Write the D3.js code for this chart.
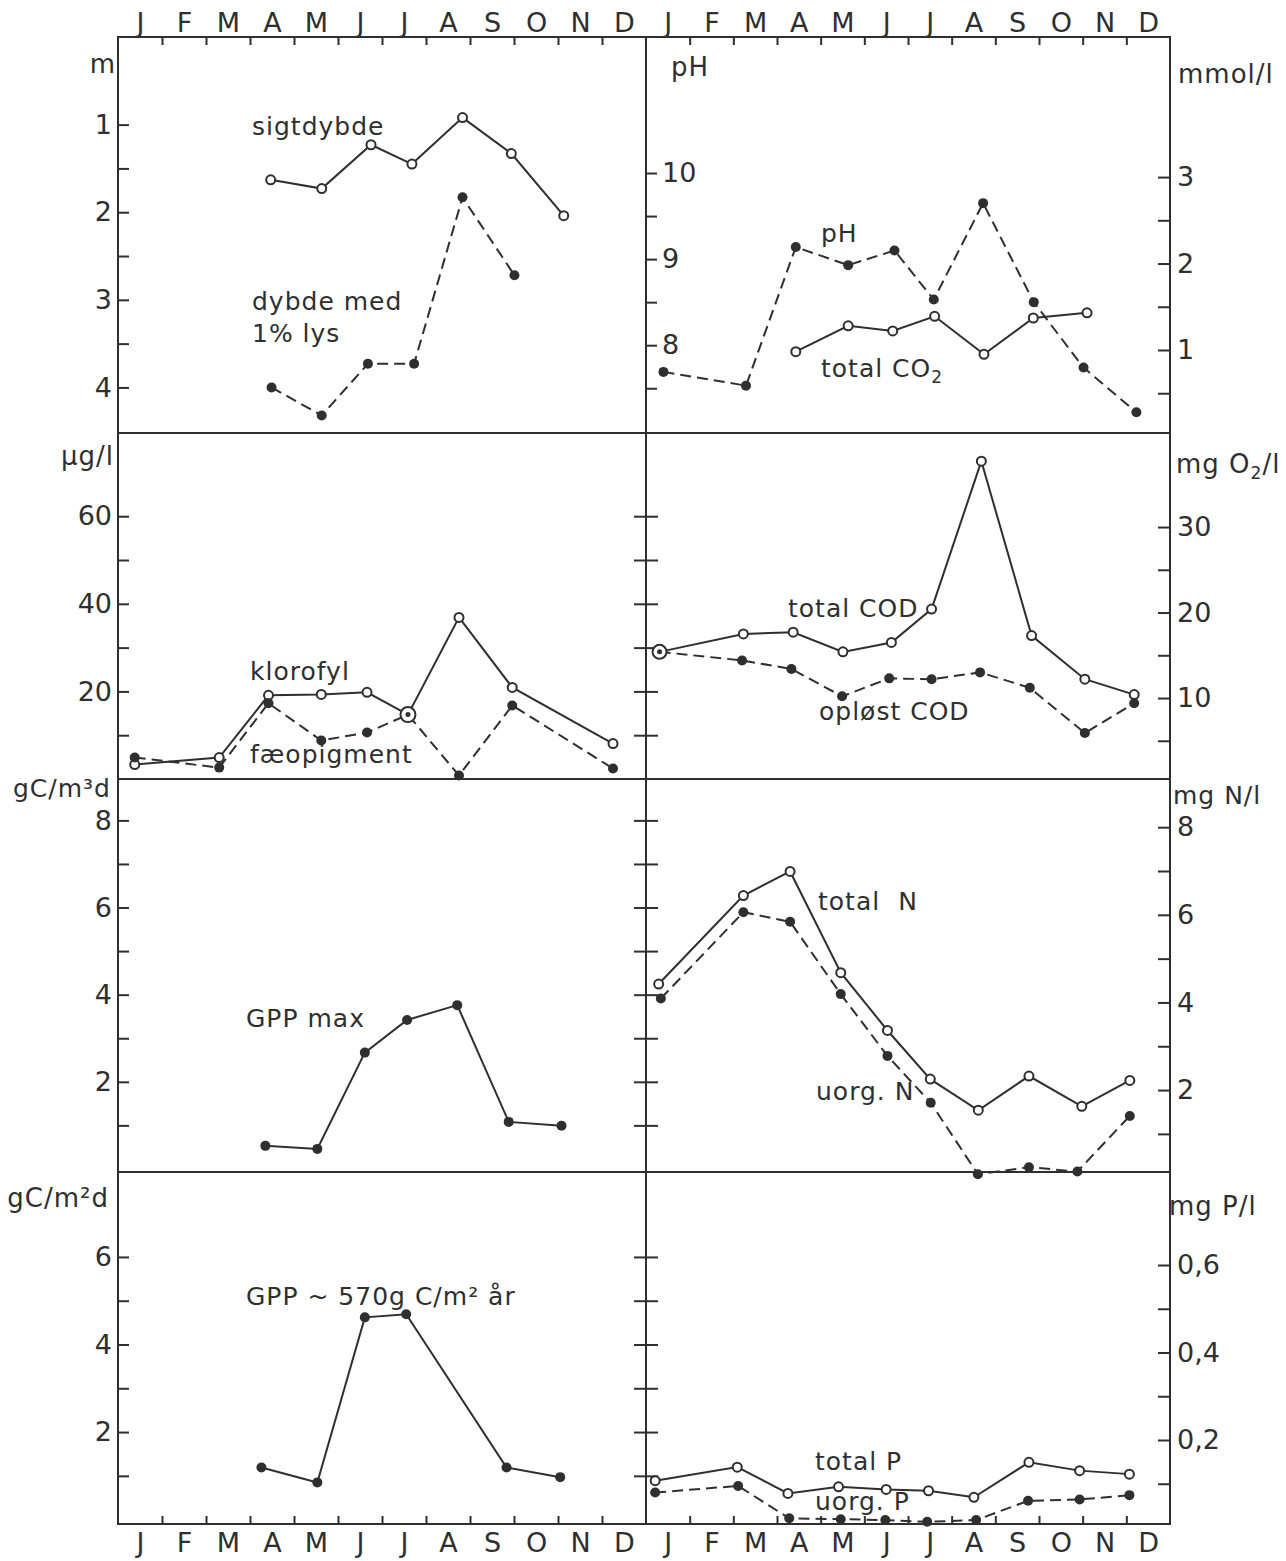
<!DOCTYPE html>
<html>
<head>
<meta charset="utf-8">
<script src="https://cdn.jsdelivr.net/npm/d3@7"></script>
<style>
  body { margin: 0; background: #fff; }
  text { font-family: "DejaVu Sans", sans-serif; fill: #2f2f2f; }
</style>
</head>
<body>
<div class="canvas"></div>
<script>
// month labels
const months = ["J","F","M","A","M","J","J","A","S","O","N","D"];

// sigtdybde and dybde med 1% lys (m), month position as fraction of year (0 = 1 Jan)
const sigtMonth = [3.47, 4.63, 5.75, 6.68, 7.83, 8.94, 10.13];
const sigtDepth = [1.63, 1.73, 1.23, 1.45, 0.92, 1.33, 2.04];
const lysMonth  = [3.49, 4.63, 5.68, 6.73, 7.83, 9.01];
const lysDepth  = [4.00, 4.32, 3.73, 3.73, 1.83, 2.72];

// pH and total CO2 (mmol/l)
const phMonth  = [0.40, 2.29, 3.43, 4.63, 5.69, 6.59, 7.72, 8.88, 10.02, 11.23];
const phValue  = [7.69, 7.53, 9.14, 8.93, 9.10, 8.53, 9.65, 8.50, 7.74, 7.22];
const co2Month = [3.43, 4.63, 5.65, 6.61, 7.74, 8.87, 10.10];
const co2Value = [0.98, 1.28, 1.22, 1.39, 0.95, 1.37, 1.43];

// klorofyl and fæopigment (µg/l)
const chlMonth = [0.38, 2.30, 3.42, 4.62, 5.66, 6.59, 7.75, 8.96, 11.25];
const chlValue = [3.3, 4.9, 19.1, 19.3, 19.8, 14.7, 36.9, 20.9, 8.1];
const feoValue = [4.9, 2.6, 17.3, 8.8, 10.6, 14.7, 0.8, 16.8, 2.4];

// total COD and opløst COD (mg O2/l)
const codMonth    = [0.31, 2.23, 3.37, 4.51, 5.62, 6.54, 7.68, 8.83, 10.05, 11.18];
const codTotal    = [15.4, 17.5, 17.7, 15.4, 16.5, 20.4, 37.7, 17.3, 12.2, 10.4];
const codOplMonth = [0.31, 2.20, 3.33, 4.49, 5.57, 6.54, 7.65, 8.79, 10.05, 11.18];
const codOplost   = [15.4, 14.4, 13.4, 10.2, 12.3, 12.2, 13.0, 11.2, 5.9, 9.4];

// GPP max (gC/m3 d)
const gppMaxMonth = [3.35, 4.53, 5.61, 6.57, 7.71, 8.88, 10.08];
const gppMaxValue = [0.53, 0.46, 2.67, 3.42, 3.76, 1.08, 0.99];

// total N and uorg. N (mg N/l)
const totNMonth  = [0.29, 2.23, 3.30, 4.46, 5.53, 6.51, 7.61, 8.77, 9.98, 11.08];
const totNValue  = [4.42, 6.44, 6.99, 4.68, 3.36, 2.25, 1.54, 2.32, 1.63, 2.22];
const uorgNMonth = [0.34, 2.23, 3.30, 4.46, 5.53, 6.52, 7.60, 8.77, 9.88, 11.08];
const uorgNValue = [4.09, 6.06, 5.84, 4.19, 2.78, 1.71, 0.08, 0.24, 0.14, 1.41];

// GPP (gC/m2 d)
const gppMonth = [3.26, 4.53, 5.61, 6.55, 8.83, 10.05];
const gppValue = [1.19, 0.85, 4.62, 4.69, 1.19, 0.97];

// total P and uorg. P (mg P/l)
const totPMonth  = [0.21, 2.09, 3.25, 4.41, 5.50, 6.47, 7.51, 8.77, 9.93, 11.07];
const totPValue  = [0.107, 0.138, 0.078, 0.093, 0.087, 0.084, 0.069, 0.149, 0.130, 0.122];
const uorgPMonth = [0.21, 2.11, 3.28, 4.46, 5.48, 6.44, 7.56, 8.75, 9.93, 11.07];
const uorgPValue = [0.080, 0.095, 0.021, 0.019, 0.017, 0.013, 0.017, 0.061, 0.064, 0.074];

const W = 1286, H = 1561;
const ink = "#2f2f2f";
const colX = [[118, 646], [646, 1170]];
const rowY = [[37, 433], [433, 779], [779, 1172], [1172, 1524]];

const svg = d3.select('.canvas')
  .append('svg')
    .attr('width', W)
    .attr('height', H)
    .style('background-color', '#fff');

const xL = d3.scaleLinear().domain([0, 12]).range(colX[0]);
const xR = d3.scaleLinear().domain([0, 12]).range(colX[1]);

// y scales
const y1L  = d3.scaleLinear().domain([0, 4.52]).range([37, 433]);
const y1pH = d3.scaleLinear().domain([6.98, 11.58]).range([433, 37]);
const y1R  = d3.scaleLinear().domain([0.04, 4.62]).range([433, 37]);
const y2L  = d3.scaleLinear().domain([0, 79]).range([779, 433]);
const y2R  = d3.scaleLinear().domain([0.53, 41]).range([779, 433]);
const y3L  = d3.scaleLinear().domain([-0.07, 8.95]).range([1172, 779]);
const y3R  = d3.scaleLinear().domain([0.13, 9.1]).range([1172, 779]);
const y4L  = d3.scaleLinear().domain([-0.1, 7.94]).range([1524, 1172]);
const y4R  = d3.scaleLinear().domain([0.008, 0.8126]).range([1524, 1172]);

// panel frames
rowY.forEach(r => colX.forEach(c => {
  svg.append('rect')
    .attr('x', c[0]).attr('y', r[0])
    .attr('width', c[1] - c[0]).attr('height', r[1] - r[0])
    .attr('fill', 'none').attr('stroke', ink).attr('stroke-width', 2);
}));

function styleAxis(g, size) {
  g.select('.domain').remove();
  g.selectAll('line').attr('stroke', ink).attr('stroke-width', 2);
  g.selectAll('text')
    .attr('fill', ink)
    .style('font-size', size + 'px')
    .style('font-family', '"DejaVu Sans", sans-serif');
}

// vertical axis: side = "left" (labels left of x, ticks inward right), "right", "inR" (labels right, ticks right)
function yAxis(x, y, major, minor, side, fmt) {
  const f = fmt || (d => d);
  let ax, axm;
  if (side === 'left') {
    ax = d3.axisLeft(y).tickValues(major).tickSize(-11).tickPadding(6).tickFormat(f);
    axm = d3.axisLeft(y).tickValues(minor).tickSize(-11).tickFormat('');
  } else if (side === 'right') {
    ax = d3.axisRight(y).tickValues(major).tickSize(-12).tickPadding(7).tickFormat(f);
    axm = d3.axisRight(y).tickValues(minor).tickSize(-12).tickFormat('');
  } else {
    ax = d3.axisRight(y).tickValues(major).tickSize(11).tickPadding(5).tickFormat(f);
    axm = d3.axisRight(y).tickValues(minor).tickSize(11).tickFormat('');
  }
  svg.append('g').attr('transform', `translate(${x},0)`).call(ax).call(g => styleAxis(g, 27));
  svg.append('g').attr('transform', `translate(${x},0)`).call(axm).call(g => styleAxis(g, 27));
}

// ticks crossing the middle divider
function crossTicks(y, vals) {
  svg.append('g').attr('transform', `translate(${colX[0][1]},0)`)
    .call(d3.axisLeft(y).tickValues(vals).tickSize(12).tickFormat(''))
    .call(g => styleAxis(g, 27));
  svg.append('g').attr('transform', `translate(${colX[0][1]},0)`)
    .call(d3.axisRight(y).tickValues(vals).tickSize(12).tickFormat(''))
    .call(g => styleAxis(g, 27));
}

// row 1
yAxis(colX[0][0], y1L, [1, 2, 3, 4], [1.5, 2.5, 3.5], 'left');
yAxis(colX[1][0], y1pH, [8, 9, 10], [7.5, 8.5, 9.5], 'inR');
yAxis(colX[1][1], y1R, [1, 2, 3], [0.5, 1.5, 2.5], 'right');
// row 2
yAxis(colX[0][0], y2L, [20, 40, 60], [10, 30, 50], 'left');
crossTicks(y2L, [10, 20, 30, 40, 50, 60]);
yAxis(colX[1][1], y2R, [10, 20, 30], [5, 15, 25], 'right');
// row 3
yAxis(colX[0][0], y3L, [2, 4, 6, 8], [1, 3, 5, 7], 'left');
crossTicks(y3L, [1, 2, 3, 4, 5, 6, 7, 8]);
yAxis(colX[1][1], y3R, [2, 4, 6, 8], [1, 3, 5, 7], 'right');
// row 4
yAxis(colX[0][0], y4L, [2, 4, 6], [1, 3, 5], 'left');
crossTicks(y4L, [1, 2, 3, 4, 5, 6]);
yAxis(colX[1][1], y4R, [0.2, 0.4, 0.6], [0.1, 0.3, 0.5], 'right', d => d3.format('.1f')(d).replace('.', ','));

// month axes top and bottom
const centers = d3.range(0.5, 12, 1);
const bounds = d3.range(1, 12);
[xL, xR].forEach(x => {
  svg.append('g').attr('transform', `translate(0,${rowY[0][0]})`)
    .call(d3.axisTop(x).tickValues(centers).tickSize(0).tickPadding(5).tickFormat(d => months[Math.floor(d)]))
    .call(g => styleAxis(g, 27));
  svg.append('g').attr('transform', `translate(0,${rowY[0][0]})`)
    .call(d3.axisBottom(x).tickValues(bounds).tickSize(8).tickFormat(''))
    .call(g => styleAxis(g, 27));
  svg.append('g').attr('transform', `translate(0,${rowY[3][1]})`)
    .call(d3.axisBottom(x).tickValues(centers).tickSize(0).tickPadding(9).tickFormat(d => months[Math.floor(d)]))
    .call(g => styleAxis(g, 27));
  svg.append('g').attr('transform', `translate(0,${rowY[3][1]})`)
    .call(d3.axisTop(x).tickValues(bounds).tickSize(8).tickFormat(''))
    .call(g => styleAxis(g, 27));
});

// series drawing
function series(x, y, ts, vs, opts) {
  const pts = ts.map((t, i) => [t, vs[i]]);
  const line = d3.line().x(d => x(d[0])).y(d => y(d[1]));
  svg.append('path')
    .datum(pts)
    .attr('d', line)
    .attr('fill', 'none')
    .attr('stroke', ink)
    .attr('stroke-width', 2)
    .attr('stroke-dasharray', opts.dashed ? '11,6' : null);
  return pts;
}
function markers(x, y, pts, open, radius) {
  svg.selectAll(null)
    .data(pts)
    .enter()
    .append('circle')
      .attr('cx', d => x(d[0]))
      .attr('cy', d => y(d[1]))
      .attr('r', (d, i) => radius ? radius(d, i) : (open ? 4.5 : 5))
      .attr('fill', open ? '#fff' : ink)
      .attr('stroke', ink)
      .attr('stroke-width', open ? 2 : 0);
}
const same = (aT, aV, bT, bV) => i => aT[i] === bT[i] && aV[i] === bV[i];

// panel 1
const p1a = series(xL, y1L, sigtMonth, sigtDepth, {});
const p1b = series(xL, y1L, lysMonth, lysDepth, {dashed: true});
markers(xL, y1L, p1a, true);
markers(xL, y1L, p1b, false);

// panel 2
const p2a = series(xR, y1pH, phMonth, phValue, {dashed: true});
const p2b = series(xR, y1R, co2Month, co2Value, {});
markers(xR, y1R, p2b, true);
markers(xR, y1pH, p2a, false);

// panel 3
const chlSame = same(chlMonth, chlValue, chlMonth, feoValue);
const p3a = series(xL, y2L, chlMonth, chlValue, {});
const p3b = series(xL, y2L, chlMonth, feoValue, {dashed: true});
markers(xL, y2L, p3a, true, (d, i) => chlSame(i) ? 7.5 : 4.5);
markers(xL, y2L, p3b, false, (d, i) => chlSame(i) ? 2.5 : 5);

// panel 4
const codSame = same(codMonth, codTotal, codOplMonth, codOplost);
const p4a = series(xR, y2R, codMonth, codTotal, {});
const p4b = series(xR, y2R, codOplMonth, codOplost, {dashed: true});
markers(xR, y2R, p4a, true, (d, i) => codSame(i) ? 7 : 4.5);
markers(xR, y2R, p4b, false, (d, i) => codSame(i) ? 2.5 : 5);

// panel 5
const p5 = series(xL, y3L, gppMaxMonth, gppMaxValue, {});
markers(xL, y3L, p5, false);

// panel 6
const p6a = series(xR, y3R, totNMonth, totNValue, {});
const p6b = series(xR, y3R, uorgNMonth, uorgNValue, {dashed: true});
markers(xR, y3R, p6a, true);
markers(xR, y3R, p6b, false);

// panel 7
const p7 = series(xL, y4L, gppMonth, gppValue, {});
markers(xL, y4L, p7, false);

// panel 8
const p8a = series(xR, y4R, totPMonth, totPValue, {});
const p8b = series(xR, y4R, uorgPMonth, uorgPValue, {dashed: true});
markers(xR, y4R, p8a, true);
markers(xR, y4R, p8b, false);

// text labels
function label(x, y, txt, size, anchor) {
  return svg.append('text')
    .attr('x', x).attr('y', y)
    .attr('text-anchor', anchor || 'start')
    .style('font-size', (size || 25) + 'px')
    .style('letter-spacing', '1px')
    .text(txt);
}
function labelSub(x, y, pre, sub, post, size, anchor) {
  const t = svg.append('text')
    .attr('x', x).attr('y', y)
    .attr('text-anchor', anchor || 'start')
    .style('font-size', (size || 25) + 'px')
    .style('letter-spacing', '1px');
  t.append('tspan').text(pre);
  t.append('tspan').attr('dy', 6).style('font-size', '17px').text(sub);
  if (post) t.append('tspan').attr('dy', -6).text(post);
  return t;
}

// unit labels
label(116, 73, 'm', 26, 'end');
label(671, 76, 'pH', 26);
label(1178, 83, 'mmol/l', 26);
label(114, 465, 'µg/l', 26, 'end');
labelSub(1176, 473, 'mg O', '2', '/l', 26);
label(111, 797, 'gC/m³d', 25, 'end');
label(1173, 804, 'mg N/l', 25);
label(109, 1207, 'gC/m²d', 26, 'end');
label(1169, 1215, 'mg P/l', 26);

// series labels
label(252, 135, 'sigtdybde');
label(252, 310, 'dybde med');
label(252, 342, '1% lys');
label(821, 242, 'pH');
labelSub(821, 377, 'total CO', '2', null);
label(250, 680, 'klorofyl');
label(250, 763, 'fæopigment');
label(788, 617, 'total COD');
label(819, 720, 'opløst COD');
label(246, 1027, 'GPP max');
svg.append('text').attr('x', 818).attr('y', 910)
  .style('font-size', '25px').style('letter-spacing', '1px')
  .call(t => { t.append('tspan').text('total'); t.append('tspan').attr('dx', 18).text('N'); });
label(816, 1100, 'uorg. N');
label(246, 1305, 'GPP ~ 570g C/m² år');
label(815, 1470, 'total P');
label(815, 1510, 'uorg. P');
</script>
</body>
</html>
